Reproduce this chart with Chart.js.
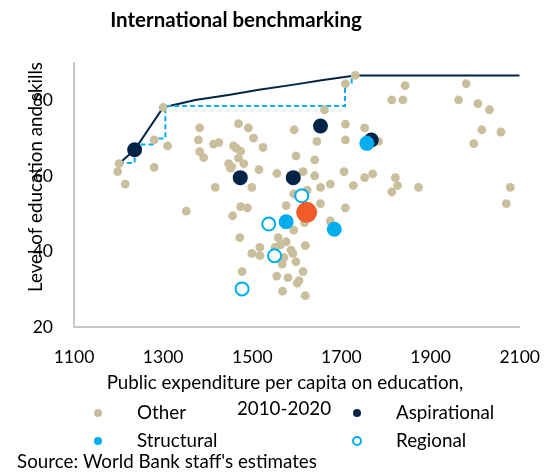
<!DOCTYPE html>
<html lang="en">
<head>
  <meta charset="UTF-8">
  <title>International benchmarking</title>
  <script src="https://cdn.jsdelivr.net/npm/chart.js"></script>
  <style>
    body { margin: 0; background: #fff; }
    #wrap { width: 560px; height: 472px; }
  </style>
</head>
<body>
<div id="wrap"><canvas id="benchChart" width="560" height="472"></canvas></div>

<script>
  // --- data ---
  const otherX = [1201, 1198, 1215, 1280, 1310, 1280, 1300, 1382, 1379, 1413, 1425, 1382, 1391, 1469, 1491, 1503,
    1458, 1464, 1474, 1469, 1524, 1447, 1454, 1451, 1481, 1515, 1417, 1499, 1555, 1594, 1598, 1593, 1352,
    1731, 1709, 1843, 1813, 1838, 1980, 1963, 2006, 2032, 1662, 1709, 1709, 1752, 1783, 1645, 2015, 2058,
    1997, 1640, 1614, 1706, 1640, 1752, 1770, 1675, 1653, 1727, 1821, 1826, 1813, 1873, 2079, 2070, 1653,
    1709, 1623, 1675, 1593, 1619, 1587, 1591, 1598, 1614, 1605, 1601, 1619, 1474, 1489, 1456, 1576, 1472,
    1558, 1576, 1563, 1551, 1517, 1499, 1517, 1571, 1567, 1477, 1555, 1580, 1568, 1617];
  const otherY = [63.3, 61.2, 57.9, 69.6, 68.0, 62.3, 78.2, 72.8, 69.6, 68.5, 68.9, 66.5, 64.9, 73.9, 72.8, 70.1,
    68.0, 67.4, 66.6, 64.8, 67.6, 63.3, 62.5, 62.1, 63.3, 61.7, 57.0, 57.0, 60.7, 72.3, 65.4, 55.3, 50.7,
    86.7, 84.5, 84.0, 80.2, 80.2, 84.5, 80.2, 79.2, 77.6, 77.6, 73.8, 69.6, 72.8, 69.2, 69.2, 72.3, 71.7,
    68.6, 64.3, 61.2, 61.2, 60.1, 59.6, 60.6, 57.9, 57.0, 57.5, 59.6, 57.5, 55.8, 57.0, 57.0, 52.7, 52.7,
    51.6, 56.3, 48.1, 45.7, 41.6, 40.4, 39.5, 37.3, 34.7, 32.3, 31.6, 28.3, 51.9, 51.6, 49.5, 52.2, 43.7,
    43.7, 42.6, 41.8, 41.1, 41.1, 39.5, 38.9, 38.4, 36.7, 34.7, 33.5, 33.1, 29.5, 47.7];

  const aspirationalX = [1236, 1473, 1592, 1653, 1767];
  const aspirationalY = [67.0, 59.6, 59.6, 73.3, 69.6];

  const structuralX = [1757, 1576, 1684];
  const structuralY = [68.7, 47.9, 45.9];

  const regionalX = [1611, 1537, 1550, 1477];
  const regionalY = [54.8, 47.3, 38.9, 30.1];

  const focusX = [1622];
  const focusY = [50.4];

  // efficiency frontier (smoothed) and step frontier
  const frontierX = [1201, 1236, 1300, 1372, 1450, 1515, 1590, 1659, 1731, 2100];
  const frontierY = [63.3, 67.0, 78.2, 80.2, 81.6, 82.9, 84.2, 85.5, 86.7, 86.7];
  const stepX = [1201, 1236, 1236, 1279, 1279, 1305, 1305, 1708, 1708, 1723, 1723];
  const stepY = [63.5, 63.5, 68.4, 68.4, 70.0, 70.0, 78.6, 78.6, 84.5, 84.5, 86.5];

  const xTicks = [1100, 1300, 1500, 1700, 1900, 2100];
  const yTicks = [20, 40, 60, 80];

  const TAN = '#C9BF9C';
  const NAVY = '#002447';
  const CYAN = '#00AEEF';
  const ORANGE = '#F15A29';
  const FONT = 'Lato, "Open Sans", sans-serif';

  const pts = (xs, ys) => xs.map((x, i) => ({ x: x, y: ys[i] }));

  // extra texts + two-column legend drawn on the canvas
  const decor = {
    id: 'decor',
    afterDraw(chart) {
      const ctx = chart.ctx;
      ctx.save();
      ctx.fillStyle = '#000';
      ctx.textBaseline = 'middle';

      ctx.font = 'bold 20.5px ' + FONT;
      ctx.textAlign = 'center';
      ctx.fillText('International benchmarking', 236, 20);

      ctx.font = '18.8px ' + FONT;
      ctx.fillText('Public expenditure per capita on education,', 285, 383);
      ctx.fillText('2010-2020', 284, 409);

      ctx.save();
      ctx.translate(36, 177);
      ctx.rotate(-Math.PI / 2);
      ctx.fillText('Level of education and skills', 0, 0);
      ctx.restore();

      const items = [
        { ds: 0, x: 98, y: 413 },
        { ds: 1, x: 357, y: 413 },
        { ds: 2, x: 98, y: 441 },
        { ds: 3, x: 357, y: 441 }
      ];
      ctx.textAlign = 'left';
      items.forEach(it => {
        const d = chart.data.datasets[it.ds];
        ctx.beginPath();
        ctx.arc(it.x, it.y, 4, 0, Math.PI * 2);
        if (d.hollow) {
          ctx.fillStyle = '#fff';
          ctx.fill();
          ctx.lineWidth = 2;
          ctx.strokeStyle = d.borderColor;
          ctx.stroke();
        } else {
          ctx.fillStyle = d.backgroundColor;
          ctx.fill();
        }
        ctx.fillStyle = '#000';
        ctx.fillText(d.label, it.x + 39, it.y);
      });

      ctx.fillText("Source: World Bank staff's estimates", 17, 462);
      ctx.restore();
    }
  };

  // datasets are drawn back to front, so the list below is stacked via "order"
  new Chart(document.getElementById('benchChart'), {
    type: 'scatter',
    data: {
      datasets: [
        { label: 'Other', data: pts(otherX, otherY), backgroundColor: TAN, borderWidth: 0, pointRadius: 4.4, order: 5 },
        { label: 'Aspirational', data: pts(aspirationalX, aspirationalY), backgroundColor: NAVY, borderWidth: 0, pointRadius: 7.5, order: 4 },
        { label: 'Structural', data: pts(structuralX, structuralY), backgroundColor: CYAN, borderWidth: 0, pointRadius: 7.5, order: 3 },
        { label: 'Regional', hollow: true, data: pts(regionalX, regionalY), backgroundColor: '#fff', borderColor: CYAN, borderWidth: 2, pointRadius: 6.5, order: 2 },
        { label: 'Country', data: pts(focusX, focusY), backgroundColor: ORANGE, borderWidth: 0, pointRadius: 10.5, order: 1 },
        { label: 'Frontier', type: 'line', data: pts(frontierX, frontierY), borderColor: NAVY, borderWidth: 2, pointRadius: 0, tension: 0, order: 7 },
        { label: 'Step', type: 'line', data: pts(stepX, stepY), borderColor: CYAN, borderWidth: 2, borderDash: [5, 3], pointRadius: 0, tension: 0, order: 6 }
      ]
    },
    options: {
      responsive: false,
      animation: false,
      layout: { padding: { left: 0, right: 23, top: 63, bottom: 0 } },
      plugins: {
        legend: { display: false },
        tooltip: { enabled: false }
      },
      scales: {
        x: {
          type: 'linear',
          min: 1100,
          max: 2100,
          afterFit: s => { s.height = 145; },
          afterBuildTicks: s => { s.ticks = xTicks.map(v => ({ value: v })); },
          grid: { display: false, drawTicks: false },
          border: { display: true, color: '#C8C8C8', width: 2 },
          ticks: { color: '#000', font: { family: FONT, size: 17.5 }, padding: 20, maxRotation: 0, callback: v => String(v) }
        },
        y: {
          min: 20,
          max: 90,
          afterFit: s => { s.width = 74; },
          afterBuildTicks: s => { s.ticks = yTicks.map(v => ({ value: v })); },
          grid: { display: false, drawTicks: false },
          border: { display: true, color: '#C8C8C8', width: 2 },
          ticks: { color: '#000', font: { family: FONT, size: 17.5 }, padding: 21, callback: v => String(v) }
        }
      }
    },
    plugins: [decor]
  });
</script>
</body>
</html>
